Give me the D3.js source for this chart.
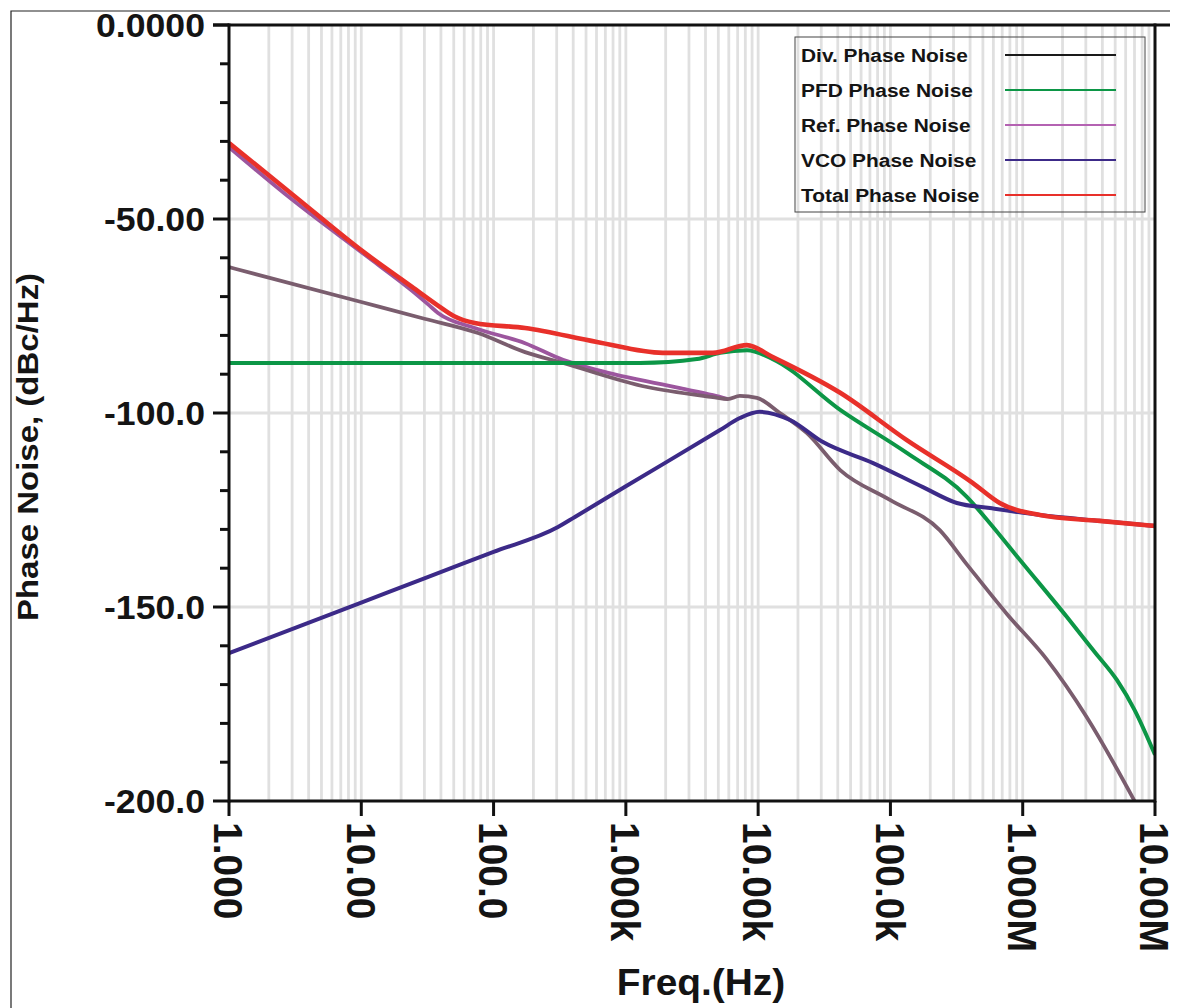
<!DOCTYPE html>
<html>
<head>
<meta charset="utf-8">
<script src="https://cdn.jsdelivr.net/npm/d3@7"></script>
<style>
  body { margin: 0; background: #fff; }
  text { font-family: "Liberation Sans", Arial, sans-serif; font-weight: bold; fill: #141414; }
</style>
</head>
<body>
<script>
// ---- data (frequency in Hz, phase noise in dBc/Hz) ----
const seriesNames = ["Div. Phase Noise", "PFD Phase Noise", "Ref. Phase Noise", "VCO Phase Noise", "Total Phase Noise"];

const divFreq = [1, 10, 30, 76.2, 173, 335, 1445, 4550, 5900, 7270, 9800, 14600, 23400, 41700, 99100, 236000, 378000, 759000, 1520000, 3050000, 6800000, 10000000];
const divDb   = [-62.4, -71.4, -75.7, -79.4, -84.3, -87.1, -93.3, -95.9, -96.4, -95.6, -96.1, -100, -105.2, -114.7, -122.4, -130.2, -139, -151.8, -163.5, -178.4, -199.2, -210];

const pfdFreq = [1, 1280, 3445, 5150, 8230, 12900, 41700, 133000, 378000, 565000, 954000, 2160000, 3500000, 5150000, 7000000, 10000000];
const pfdDb   = [-87.1, -87.1, -86.1, -84.5, -83.8, -86.1, -99.2, -110.3, -121.6, -128.4, -137.9, -152.6, -161.6, -168.8, -176.5, -188.1];

const refFreq = [1, 3, 10.7, 24.2, 32, 38, 72, 173, 335, 600, 2570, 4550, 5900];
const refDb   = [-31.5, -45, -59.3, -68.5, -72, -74.2, -78.1, -82, -86.3, -88.9, -93.6, -95.4, -96.4];

const vcoFreq = [1, 9.44, 30, 100, 307, 412, 1000, 5150, 7270, 10300, 17400, 30900, 74000, 176000, 318000, 565000, 1350000, 3800000, 10000000];
const vcoDb   = [-161.9, -149.2, -142.6, -135.8, -129.4, -126.8, -118.9, -104.4, -101.3, -99.7, -101.8, -107.5, -112.9, -119.1, -123.2, -124.5, -126.3, -127.8, -129.1];

const totFreq = [1, 3, 10.7, 24.2, 38, 50, 72, 173, 604, 1900, 4550, 8230, 12900, 41700, 133000, 418000, 670000, 1350000, 3800000, 10000000];
const totDb   = [-30.4, -43.6, -58.8, -67.5, -72.3, -75, -76.8, -78.1, -81.7, -84.5, -84.5, -82.5, -85.6, -94.8, -107, -118, -123.2, -126.3, -127.8, -129.1];

const xTickValues = [1, 10, 100, 1e3, 1e4, 1e5, 1e6, 1e7];
const xTickLabels = ["1.000", "10.00", "100.0", "1.000k", "10.00k", "100.0k", "1.000M", "10.00M"];
const yTickValues = [0, -50, -100, -150, -200];
const yTickLabels = ["0.0000", "-50.00", "-100.0", "-150.0", "-200.0"];

// ---- layout ----
const width = 1181, height = 1008;
const plot = { left: 229, right: 1155, top: 25, bottom: 801 };

const svg = d3.select("body").append("svg")
    .attr("width", width)
    .attr("height", height);

const x = d3.scaleLog().domain([1, 1e7]).range([plot.left, plot.right]);
const y = d3.scaleLinear().domain([-200, 0]).range([plot.bottom, plot.top]);

// outer frame (only top and left edges show in the picture)
svg.append("path")
    .attr("d", `M11,${height} V11 H1170`)
    .attr("fill", "none")
    .attr("stroke", "#222")
    .attr("stroke-width", 1.2);

// grid
const minorFreqs = [];
for (let e = 0; e < 7; e++) {
    for (let k = 1; k <= 9; k++) minorFreqs.push(k * Math.pow(10, e));
}
svg.append("g")
    .selectAll("line")
    .data(minorFreqs.filter(f => f > 1))
    .enter().append("line")
    .attr("x1", d => x(d)).attr("x2", d => x(d))
    .attr("y1", plot.top).attr("y2", plot.bottom)
    .attr("stroke", "#e0e0e0")
    .attr("stroke-width", 2.8);

svg.append("g")
    .selectAll("line")
    .data([-50, -100, -150])
    .enter().append("line")
    .attr("x1", plot.left).attr("x2", plot.right)
    .attr("y1", d => y(d)).attr("y2", d => y(d))
    .attr("stroke", "#e0e0e0")
    .attr("stroke-width", 2.8);

// curves
svg.append("clipPath").attr("id", "plotClip")
    .append("rect")
    .attr("x", plot.left).attr("y", plot.top)
    .attr("width", plot.right - plot.left)
    .attr("height", plot.bottom - plot.top);

const line = d3.line()
    .x(d => x(d[0]))
    .y(d => y(d[1]))
    .curve(d3.curveMonotoneX);

const curves = [
    { f: refFreq, v: refDb, color: "#9c569e", w: 3.8 },
    { f: divFreq, v: divDb, color: "#7a5d6e", w: 3.8 },
    { f: pfdFreq, v: pfdDb, color: "#0c9646", w: 4 },
    { f: vcoFreq, v: vcoDb, color: "#3c2a88", w: 4 },
    { f: totFreq, v: totDb, color: "#e8302a", w: 4.6 }
];

const curveGroup = svg.append("g").attr("clip-path", "url(#plotClip)");
curves.forEach(c => {
    curveGroup.append("path")
        .datum(d3.zip(c.f, c.v))
        .attr("d", line)
        .attr("fill", "none")
        .attr("stroke", c.color)
        .attr("stroke-width", c.w)
        .attr("stroke-linejoin", "round");
});

// axes lines
const axisG = svg.append("g").attr("stroke", "#111").attr("stroke-width", 3);
axisG.append("line").attr("x1", plot.left).attr("x2", plot.left).attr("y1", plot.top - 1.5).attr("y2", plot.bottom + 1.5);
axisG.append("line").attr("x1", plot.right).attr("x2", plot.right).attr("y1", plot.top - 1.5).attr("y2", plot.bottom + 1.5);
axisG.append("line").attr("x1", plot.left).attr("x2", plot.right).attr("y1", plot.bottom).attr("y2", plot.bottom);
axisG.append("line").attr("x1", plot.left - 16).attr("x2", 1170).attr("y1", plot.top).attr("y2", plot.top);

// y ticks (major every 50, minor every 10)
const yMinor = d3.range(-200, 1, 10).filter(v => v % 50 !== 0);
axisG.selectAll(".ymaj").data(yTickValues).enter().append("line")
    .attr("x1", plot.left - 16).attr("x2", plot.left)
    .attr("y1", d => y(d)).attr("y2", d => y(d));
axisG.selectAll(".ymin").data(yMinor).enter().append("line")
    .attr("x1", plot.left - 9).attr("x2", plot.left)
    .attr("y1", d => y(d)).attr("y2", d => y(d));

// x ticks
axisG.selectAll(".xmaj").data(xTickValues).enter().append("line")
    .attr("x1", d => x(d)).attr("x2", d => x(d))
    .attr("y1", plot.bottom).attr("y2", plot.bottom + 15);

// tick labels
svg.append("g")
    .selectAll("text")
    .data(yTickValues)
    .enter().append("text")
    .attr("transform", d => `translate(205,${y(d)}) scale(1.08,1)`)
    .attr("dy", "0.36em")
    .attr("text-anchor", "end")
    .attr("font-size", 33)
    .text((d, i) => yTickLabels[i]);

svg.append("g")
    .selectAll("text")
    .data(xTickValues)
    .enter().append("text")
    .attr("transform", d => `translate(${x(d)},822) scale(1.05,1) rotate(90)`)
    .attr("dy", "0.36em")
    .attr("font-size", 39)
    .text((d, i) => xTickLabels[i]);

// axis titles
svg.append("text")
    .attr("transform", "translate(701,995) scale(1.05,1)")
    .attr("text-anchor", "middle")
    .attr("font-size", 37)
    .text("Freq.(Hz)");

svg.append("text")
    .attr("transform", "translate(27,447) scale(0.92,1) rotate(-90)")
    .attr("text-anchor", "middle")
    .attr("dy", "0.36em")
    .attr("font-size", 33)
    .text("Phase Noise, (dBc/Hz)");

// legend
const legendColors = ["#1a1a1a", "#0c9646", "#b462b2", "#3c2a88", "#e8302a"];
const legend = svg.append("g");
legend.append("rect")
    .attr("x", 795).attr("y", 37)
    .attr("width", 350).attr("height", 175)
    .attr("fill", "none")
    .attr("stroke", "#444")
    .attr("stroke-width", 1);

seriesNames.forEach((name, i) => {
    const base = 62 + i * 35;
    legend.append("text")
        .attr("transform", `translate(801,${base}) scale(1.1,1)`)
        .attr("font-size", 19)
        .text(name);
    legend.append("line")
        .attr("x1", 1005).attr("x2", 1116)
        .attr("y1", base - 7).attr("y2", base - 7)
        .attr("stroke", legendColors[i])
        .attr("stroke-width", 1.8);
});
</script>
</body>
</html>
